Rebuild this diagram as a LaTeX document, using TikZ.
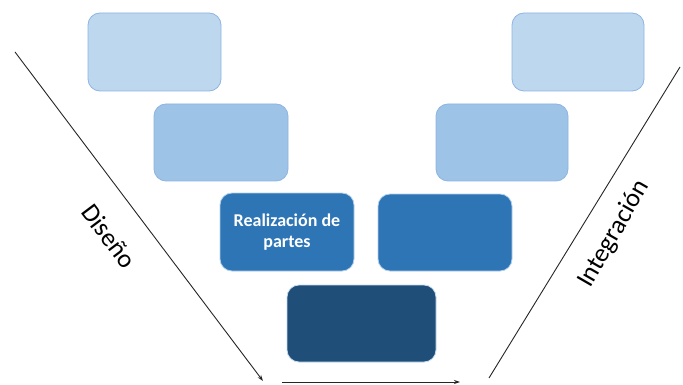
\documentclass[tikz,border=0pt]{standalone}
\usepackage{fontspec}
\setmainfont{Carlito}
\usetikzlibrary{arrows.meta}
\definecolor{c1}{HTML}{BDD7EE}
\definecolor{c2}{HTML}{9DC3E6}
\definecolor{c3}{HTML}{2E75B6}
\definecolor{c4}{HTML}{1F4E79}
\definecolor{bd}{HTML}{8EB4E3}
\begin{document}
\begin{tikzpicture}[x=1pt,y=-1pt,
  box/.style={rounded corners=12pt,draw=bd,line width=0.8pt},
  arr/.style={line width=0.9pt,draw=black!85,-{Stealth[length=6pt,width=4pt]}},
  ln/.style={line width=0.9pt,draw=black!85}]
\useasboundingbox (0,0) rectangle (683,385);
\fill[white] (0,0) rectangle (683,385);
\draw[box,fill=c1] (88,13) rectangle (221,91);
\draw[box,fill=c1] (512,13) rectangle (644,91);
\draw[box,fill=c2] (154,104) rectangle (288,181);
\draw[box,fill=c2] (436,104) rectangle (568,181);
\draw[box,fill=c3,draw=c2!80] (220,193) rectangle (354,271) node[pos=0.5,text=white,font=\fontsize{18}{21}\selectfont\bfseries,align=center] (rp) {Realización de\\partes};
\draw[box,fill=c3,draw=c2!80] (378,194) rectangle (512,271);
\draw[box,fill=c4,draw=c2!60] (287,285) rectangle (436,362);
\coordinate (l1) at (15,52);
\coordinate (l2) at (263,381);
\coordinate (b1) at (282,382);
\coordinate (b2) at (460,382);
\coordinate (r1) at (489,378);
\coordinate (r2) at (680,67);
\draw[arr] (l1) -- (l2);
\draw[arr] (b1) -- (b2);
\draw[ln] (r1) -- (r2);
\node[rotate=-53,font=\fontsize{26}{30}\selectfont] (dis) at (109,236) {Diseño};
\node[rotate=60,font=\fontsize{26}{30}\selectfont] (int) at (614,234) {Integración};
\end{tikzpicture}
\end{document}
